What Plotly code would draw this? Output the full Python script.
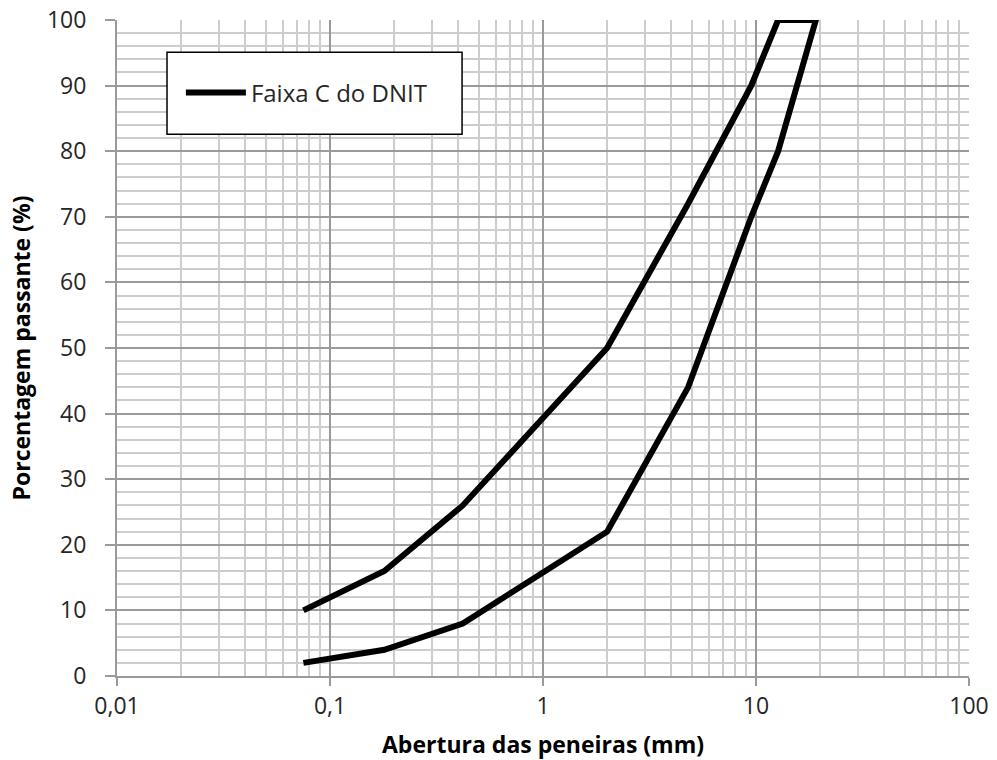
import plotly.graph_objects as go

# Sieve openings (mm) and DNIT band C limits (% passing)
sieves = [0.075, 0.18, 0.42, 2.0, 4.8, 9.5, 12.7, 19.1]
upper = [10, 16, 26, 50, 72, 90, 100, 100]
lower = [2, 4, 8, 22, 44, 70, 80, 100]
series_name = "Faixa C do DNIT"

x_tickvals = [0.01, 0.1, 1, 10, 100]
x_ticktext = ["0,01", "0,1", "1", "10", "100"]
x_minorvals = [m * d for d in (0.01, 0.1, 1, 10) for m in range(2, 10)]
y_tickvals = [0, 10, 20, 30, 40, 50, 60, 70, 80, 90, 100]

# one continuous line: upper limit up, then lower limit back down
xs = sieves + sieves[::-1]
ys = upper + lower[::-1]

FONT = "Open Sans"
TXT = "#262626"
MAJOR = "#9a9a9a"
MINOR = "#cdcdcd"

fig = go.Figure()
fig.add_trace(go.Scatter(x=xs, y=ys, mode="lines", name=series_name,
                         line=dict(color="black", width=6), showlegend=True))

fig.update_layout(
    width=997, height=760,
    margin=dict(l=117, r=28, t=20, b=84),
    paper_bgcolor="white", plot_bgcolor="white",
    font=dict(family=FONT, size=23, color=TXT),
    showlegend=True,
    legend=dict(x=0.075, y=0.889, xanchor="left", yanchor="middle",
                bgcolor="rgba(0,0,0,0)", borderwidth=0,
                font=dict(family=FONT, size=24, color=TXT), itemwidth=60),
    shapes=[dict(type="rect", xref="paper", yref="paper",
                 x0=0.0587, x1=0.405, y0=0.826, y1=0.951,
                 line=dict(color="black", width=1.5), fillcolor="white", layer="above")],
)

fig.update_xaxes(
    type="log", range=[-2, 2], automargin=False,
    tickvals=x_tickvals, ticktext=x_ticktext,
    showgrid=True, gridcolor=MAJOR, gridwidth=2,
    minor=dict(showgrid=True, gridcolor=MINOR, gridwidth=2, tickvals=x_minorvals, ticks=""),
    showline=True, linecolor=MAJOR, linewidth=2,
    ticks="outside", ticklen=8, tickcolor=MAJOR, tickwidth=2,
    tickfont=dict(family=FONT, size=23, color=TXT),
    title=dict(text="<b>Abertura das peneiras (mm)</b>", standoff=21,
               font=dict(family=FONT, size=23, color="black")),
    zeroline=False, mirror=False,
)
fig.update_yaxes(
    range=[0, 100], tickvals=y_tickvals, automargin=False,
    showgrid=True, gridcolor=MAJOR, gridwidth=2,
    minor=dict(showgrid=True, gridcolor=MINOR, gridwidth=2, dtick=2, ticks=""),
    showline=True, linecolor=MAJOR, linewidth=2,
    ticks="outside", ticklen=10, tickcolor=MAJOR, tickwidth=2,
    ticklabelstandoff=14,
    tickfont=dict(family=FONT, size=23, color=TXT),
    title=dict(text="<b>Porcentagem passante (%)</b>", standoff=10,
               font=dict(family=FONT, size=23, color="black")),
    zeroline=False,
)

fig.write_html("out.html")
